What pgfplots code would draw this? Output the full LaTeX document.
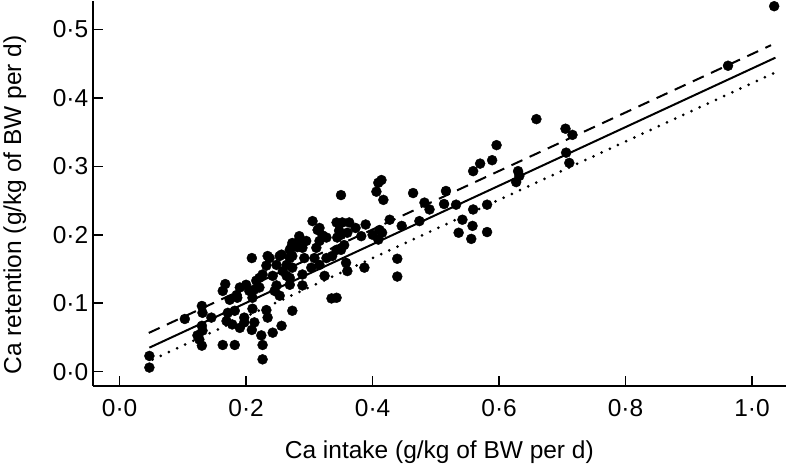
\documentclass[border=0pt]{standalone}
\usepackage{fontspec}
\setmainfont{Liberation Sans}
\usepackage{pgfplots}
\usepackage{pgfplotstable}
\pgfplotsset{compat=1.18}
\pgfplotstableread{
x y
0.047 0.023
0.047 0.006
0.103 0.077
0.123 0.053
0.126 0.047
0.130 0.038
0.130 0.067
0.131 0.060
0.130 0.096
0.131 0.086
0.145 0.079
0.163 0.039
0.182 0.039
0.163 0.118
0.167 0.128
0.169 0.074
0.171 0.086
0.174 0.105
0.178 0.069
0.182 0.089
0.186 0.108
0.185 0.112
0.190 0.123
0.190 0.064
0.197 0.072
0.197 0.079
0.200 0.127
0.205 0.118
0.209 0.061
0.210 0.092
0.210 0.108
0.213 0.072
0.213 0.120
0.209 0.166
0.216 0.133
0.221 0.137
0.221 0.123
0.224 0.053
0.226 0.039
0.226 0.018
0.226 0.142
0.232 0.090
0.232 0.155
0.234 0.079
0.234 0.169
0.237 0.166
0.242 0.140
0.242 0.057
0.245 0.118
0.248 0.126
0.248 0.156
0.253 0.111
0.253 0.169
0.256 0.067
0.256 0.171
0.258 0.147
0.264 0.156
0.264 0.140
0.269 0.137
0.269 0.178
0.269 0.127
0.269 0.166
0.271 0.181
0.273 0.089
0.273 0.152
0.273 0.169
0.273 0.188
0.281 0.182
0.284 0.193
0.284 0.198
0.289 0.126
0.289 0.142
0.289 0.181
0.292 0.166
0.295 0.191
0.303 0.152
0.305 0.220
0.308 0.166
0.311 0.181
0.313 0.207
0.316 0.191
0.316 0.156
0.316 0.210
0.321 0.199
0.324 0.140
0.327 0.166
0.327 0.196
0.336 0.169
0.335 0.107
0.343 0.108
0.343 0.218
0.344 0.196
0.343 0.178
0.347 0.206
0.350 0.258
0.350 0.200
0.350 0.178
0.352 0.218
0.355 0.185
0.358 0.159
0.360 0.147
0.360 0.203
0.363 0.218
0.373 0.210
0.382 0.198
0.387 0.152
0.389 0.215
0.400 0.200
0.406 0.263
0.409 0.276
0.414 0.280
0.417 0.251
0.409 0.193
0.411 0.207
0.415 0.203
0.427 0.222
0.439 0.165
0.439 0.139
0.446 0.213
0.464 0.261
0.474 0.220
0.482 0.247
0.490 0.237
0.516 0.264
0.513 0.245
0.532 0.244
0.536 0.203
0.542 0.222
0.556 0.194
0.558 0.213
0.559 0.237
0.559 0.293
0.570 0.304
0.581 0.244
0.581 0.204
0.589 0.309
0.596 0.331
0.627 0.277
0.632 0.286
0.630 0.293
0.659 0.369
0.705 0.355
0.716 0.346
0.706 0.320
0.711 0.305
0.962 0.447
1.035 0.534
}\pts
\begin{document}
\begin{tikzpicture}
\begin{axis}[
 scale only axis, width=694pt, height=385pt,
 xmin=-0.0427, xmax=1.0537, ymin=-0.0204, ymax=0.5416,
 axis x line*=bottom, axis y line*=left,
 axis line style={line width=2pt, -},
 tick style={line width=1.6pt, black}, tick align=inside, major tick length=10pt,
 xtick={0,0.2,0.4,0.6,0.8,1.0}, xticklabels={0·0,0·2,0·4,0·6,0·8,1·0},
 ytick={0,0.1,0.2,0.3,0.4,0.5}, yticklabels={0·0,0·1,0·2,0·3,0·4,0·5},
 ticklabel style={font=\fontsize{24.5}{29}\selectfont},
 xticklabel style={yshift=-10pt},
 yticklabel style={xshift=-1pt},
 label style={font=\fontsize{24.5}{29}\selectfont},
 xlabel={Ca intake (g/kg of BW per d)},
 ylabel={Ca retention (g/kg of BW per d)},
 xlabel style={at={(axis description cs:0.5,0)}, anchor=center, yshift=-67pt},
 ylabel style={at={(axis description cs:0,0.47)}, anchor=center, yshift=78pt},
 clip=false,
]
\addplot[only marks, mark=*, mark size=5pt, black] table[x=x,y=y] {\pts};
\addplot[black, line width=2pt] coordinates {(0.047,0.0351) (1.037,0.4588)};
\addplot[black, line width=2pt, dash pattern=on 12pt off 8pt] coordinates {(0.046,0.0566) (1.03,0.477)};
\addplot[black, line width=3pt, line cap=round, dash pattern=on 0pt off 9pt] coordinates {(0.052,0.0177) (1.038,0.4377)};
\end{axis}
\end{tikzpicture}
\end{document}
